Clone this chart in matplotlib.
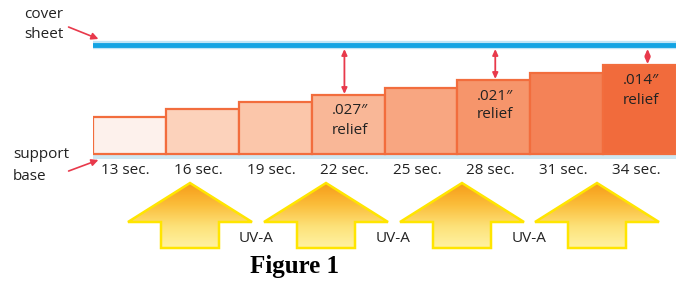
import numpy as np
import matplotlib
matplotlib.use("Agg")
import matplotlib.pyplot as plt
from matplotlib.patches import Polygon

plt.rcParams['font.family'] = ['Open Sans', 'DejaVu Sans']

# data: exposure times and resulting floor heights (arbitrary units, base = 0)
times = ['13 sec.', '16 sec.', '19 sec.', '22 sec.', '25 sec.', '28 sec.', '31 sec.', '34 sec.']
heights = [37, 45, 52, 59, 66, 74, 81, 89]
cover_level = 109
relief_idx = [3, 5, 7]
relief_txt = ['.027\u2033', '.021\u2033', '.014\u2033']
bar_colors = ['#fdf1ec', '#fcd2bb', '#fbc6aa', '#f9b797', '#f8a681',
              '#f6956b', '#f48257', '#f16b3c']
uv_centers = [190, 326, 462, 597]
uv_labels = [256, 393, 529]

W, H = 676, 282
TXT = '#222222'
FS = 11

fig = plt.figure(figsize=(W / 100, H / 100), dpi=100)

# overlay axes in pixel coords for annotations
ax = fig.add_axes([0, 0, 1, 1])
ax.set_xlim(0, W)
ax.set_ylim(H, 0)
ax.axis('off')

# bar axes: x from px 93 to 676, y value 0 at px 154
bx = fig.add_axes([93 / W, (H - 184) / H, (W - 93) / W, 184 / H])
bx.set_xlim(0, 8)
bx.set_ylim(-30, 154)
bx.axis('off')
bx.patch.set_alpha(0)

x = np.arange(len(times))
bx.bar(x, heights, width=1, align='edge', color=bar_colors,
       edgecolor='#f26d3d', linewidth=1.6, zorder=3)

# support base
bx.fill_between([0, 8], -5, 0, color='#cfe7f1', lw=0, zorder=2)

# cover sheet
bx.plot([0, 8], [cover_level, cover_level], color='#bfe4f6', lw=6,
        solid_capstyle='round', zorder=3)
bx.plot([0, 8], [cover_level, cover_level], color='#12a3e3', lw=3.5,
        solid_capstyle='round', zorder=4)

for i, t in enumerate(times):
    bx.text(i + 0.45, -16, t, ha='center', va='center', fontsize=FS,
            color=TXT)

# relief arrows + labels
offs = [-0.05, 0.02, 0.11]
for k, i in enumerate(relief_idx):
    xc = i + 0.5 + offs[k]
    bx.annotate('', xy=(xc, heights[i] + 1), xytext=(xc, cover_level - 4),
                arrowprops=dict(arrowstyle='<|-|>,head_length=0.35,head_width=0.16',
                                color='#e8394b', lw=1.3, shrinkA=0, shrinkB=0),
                zorder=5)
    bx.text(i + 0.52, heights[i] - 16, relief_txt[k], ha='center', va='center',
            fontsize=FS, color=TXT, zorder=6)
    bx.text(i + 0.52, heights[i] - 35, 'relief', ha='center', va='center',
            fontsize=FS, color=TXT, zorder=6)

# left labels with red arrows
ax.text(24, 15, 'cover', ha='left', va='center', fontsize=FS, color=TXT)
ax.text(24, 35, 'sheet', ha='left', va='center', fontsize=FS, color=TXT)
ax.text(13, 154, 'support', ha='left', va='center', fontsize=FS, color=TXT)
ax.text(13, 176, 'base', ha='left', va='center', fontsize=FS, color=TXT)
ax.annotate('', xy=(101, 40), xytext=(66, 26),
            arrowprops=dict(arrowstyle='-|>,head_length=0.4,head_width=0.2',
                            color='#e8394b', lw=1.2))
ax.annotate('', xy=(101, 159), xytext=(66, 172),
            arrowprops=dict(arrowstyle='-|>,head_length=0.4,head_width=0.2',
                            color='#e8394b', lw=1.2))

# UV arrows with gradient fill
grad = np.linspace(0, 1, 256).reshape(-1, 1)
cmap = matplotlib.colors.LinearSegmentedColormap.from_list(
    'uv', ['#f69a17', '#fbbd3a', '#fde27a', '#fff3a6'])
for cx in uv_centers:
    pts = [(cx, 183), (cx + 62, 222), (cx + 29, 222), (cx + 29, 248),
           (cx - 29, 248), (cx - 29, 222), (cx - 62, 222)]
    poly = Polygon(pts, closed=True, facecolor='none', edgecolor='#ffe500',
                   lw=1.8, zorder=3)
    ax.add_patch(poly)
    im = ax.imshow(grad, cmap=cmap, extent=(cx - 63, cx + 63, 249, 182),
                   aspect='auto', zorder=2)
    im.set_clip_path(poly)
for lx in uv_labels:
    ax.text(lx, 238, 'UV-A', ha='center', va='center', fontsize=FS,
            color=TXT)
ax.set_xlim(0, W)
ax.set_ylim(H, 0)

ax.text(295, 266, 'Figure 1', ha='center', va='center', fontsize=18,
        fontweight='bold', family='Liberation Serif', color='black')

fig.savefig('out.png', dpi=100)
